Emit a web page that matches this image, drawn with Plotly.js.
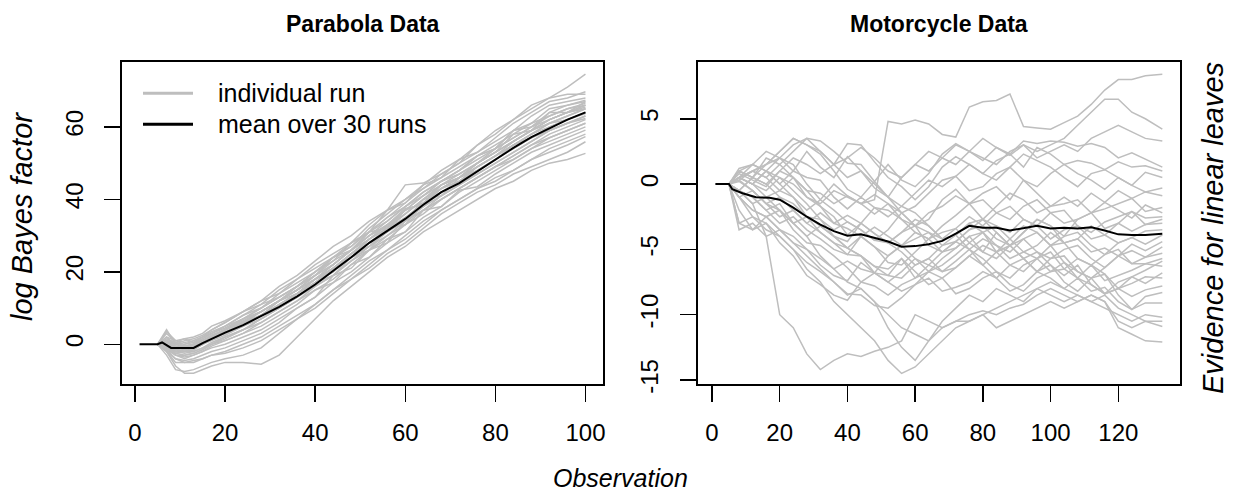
<!DOCTYPE html>
<html><head><meta charset="utf-8">
<script src="https://cdn.plot.ly/plotly-3.0.1.min.js"></script>
<style>html,body{margin:0;padding:0;background:#fff;} #chart{width:1234px;height:493px;}</style>
</head><body><div id="chart"></div>
<script>
// ---------- Parabola Data ----------
const parabolaObs = [5, 7, 9, 11, 13, 15, 17, 20, 24, 28, 32, 36, 40, 44, 48, 52, 56, 60, 64, 68, 72, 76, 80, 84, 88, 92, 96, 100];
const parabolaRuns = [
  [0, 3.5, 1, 1.5, 0.5, 2, 4, 6, 9, 12, 14, 18, 22, 25, 28, 33, 37, 44, 44.5, 47, 50, 55, 58, 62, 66, 68, 71, 74.6],
  [0, 1, -1, 0, 1, 2, 3, 5, 8, 11, 13, 16, 20, 23, 28, 31, 37, 39, 44, 46, 51, 53, 57, 61, 64, 67, 68, 69.7],
  [0, 0.5, 0, -0.5, 0, 1.5, 3, 4.5, 7, 9, 12, 15, 19, 22, 26, 30, 32.5, 37, 41, 45, 48, 52, 54, 59, 61, 65, 66, 67.4],
  [0, -1, -2, -1.5, -1, 0, 2, 3, 6, 8, 11, 14, 18, 21, 24, 29, 32, 36, 40, 44, 46, 50, 54, 57, 60, 63, 65, 66.5],
  [0, -0.5, -1.5, -2, -1, 1, 2, 4, 6, 9, 12, 15, 18, 22, 26, 29, 33, 37.5, 38.5, 43, 45, 49, 52, 56, 59, 62, 64, 65.5],
  [0, 4, 0, -1, -0.5, 0.5, 1.5, 3, 5, 8, 11, 14, 18, 20, 25, 27, 32, 34, 40, 41, 46, 48, 51, 55, 58, 61, 62, 63.7],
  [0, -0.5, -2.5, -2, -2, -1, 0.5, 2, 4, 7, 10, 13, 16, 19, 23, 27, 30, 34, 37, 41, 44, 47, 50, 53, 56, 59, 61, 62.3],
  [0, -1, -3, -3, -2.5, -1.5, 0, 1, 3, 6, 9, 12, 15, 18, 22, 26, 29, 33, 36, 40, 43, 46, 49, 52, 55, 57, 59, 61],
  [0, -1.5, -3, -4, -3, -2, -1, 0, 2, 4, 7, 10, 13, 17, 20, 24, 28, 31, 35, 38, 42.5, 43.5, 47, 50, 53, 55, 57, 59.1],
  [0, -2, -5, -5, -4.5, -4, -3, -2, 0, 2, 5, 8, 11, 15, 18, 22, 26, 29, 33, 37, 40, 43, 46, 48, 51, 53, 55, 57.3],
  [0, -3, -7, -7.5, -7, -6, -5, -4, -3, -1, 3, 7, 10, 14, 18, 21, 25, 28, 32, 36, 39, 42, 44, 47, 49, 51, 53, 55.9],
  [0, -2, -6, -8, -8, -7, -6, -5, -5, -5.5, -3, 2, 7, 12, 16, 20, 24, 27, 31, 34, 37, 40, 43, 45, 48, 50, 51, 52.7],
  [0, 1, 0, 1, 1.5, 2.5, 4, 6, 9, 11, 15, 18, 21, 24, 27, 31, 34, 38, 42, 45, 48, 51, 54, 57, 60, 62, 64, 66],
  [0, 0, -1, -1, 0, 1, 2.5, 4, 7, 10, 13, 16, 19, 24, 26, 31, 32, 37, 39, 44, 46, 50, 53, 56, 59, 61, 63, 65],
  [0, 2, -0.5, -1, -0.5, 0.5, 2, 3.5, 5.5, 8, 12, 15, 18, 22, 26, 30, 33, 37, 41, 44, 46, 49, 52, 55, 58, 60, 62, 64],
  [0, 0.5, -1, -1.5, -1, 0.5, 2, 4, 7, 9, 12, 16, 19, 23, 26, 30, 34, 38, 41, 45, 48, 52, 54, 59, 60, 64, 66, 67],
  [0, -0.5, -2, -2, -1.5, 0, 1.5, 3, 6, 9, 12, 15, 19, 22, 26, 31, 35, 39, 43, 47, 50, 53, 56, 59, 63, 66, 67, 68],
  [0, -1, -2, -2.5, -2, -1, 0, 1.5, 4, 6, 9, 12, 16, 19, 23, 26, 30, 33, 37, 40, 43, 46, 49, 52, 55, 58, 60, 62],
  [0, -0.5, -3, -3.5, -3, -2, -0.5, 1, 3, 5, 8, 11, 15, 17, 22, 24, 29, 31, 37, 38, 42, 45, 48, 51, 54, 56, 58, 60],
  [0, 1.5, 0.5, 0, 0.5, 1.5, 3, 5, 8, 10, 14, 17, 20, 24, 27, 32, 36, 40, 43, 46, 49, 52, 55, 58, 61, 63, 65, 66],
  [0, -1, -1.5, -2, -1.5, 0, 1, 2.5, 5, 7, 10, 14, 17, 20, 24, 27, 31, 34, 38, 41, 44, 47, 50, 53, 56, 59, 61, 63],
  [0, 0.5, -0.5, -1, 0, 1, 2, 3, 6, 9, 12, 14, 17, 21, 25, 29, 32, 35, 38, 42, 45, 49, 52, 55, 58, 61, 63, 65],
  [0, -1.5, -4, -4.5, -4, -3, -2, -1, 1, 3, 6, 10, 13, 19, 21, 26, 28, 34, 37, 40, 43, 46, 49, 51, 54, 57, 59, 61],
  [0, -2, -4, -5, -5, -4, -3, -2.5, -1, 1, 4, 7, 11, 15, 19, 23, 26, 30, 34, 37, 40, 43, 45, 48, 51, 54, 56, 58],
  [0, 2, 1, 0.5, 1, 2, 3.5, 5, 7, 10, 13, 16, 20, 24, 28, 31, 35, 38, 42, 45, 47, 50, 53, 58, 59, 64, 64, 67],
  [0, 1, 0.5, 1.5, 2, 3, 5, 6.5, 9, 12, 16, 19, 23, 27, 30, 34, 37, 40, 44, 48, 51, 55, 59, 62, 65, 68, 69, 69],
  [0, -0.5, -1.5, -1, -1, 0, 1.5, 3, 5, 8, 10, 13, 17, 19, 24, 26, 32, 33, 39, 42, 45, 48, 51, 54, 57, 59, 61, 63],
  [0, 0, -1, -0.5, 0, 1, 2, 4, 6, 8, 11, 14, 18, 21, 25, 29, 33, 36, 40, 43, 46, 50, 53, 56, 59, 62, 64, 66],
  [0, 3, 0.5, -0.5, 0, 1, 2.5, 4, 6.5, 9, 12, 15, 18, 21, 24, 28, 31, 35, 39, 43, 46, 49, 52, 55, 57, 60, 62, 64],
  [0, -1, -2.5, -3, -2.5, -1.5, 0, 2, 4, 7, 10, 13, 17, 21, 25, 28, 32, 36, 40, 44, 47, 50, 53, 56, 59, 62, 64, 65]
];
const parabolaMeanObs = [1, 5, 6, 7, 8, 10, 13, 15, 17, 20, 24, 28, 32, 36, 40, 44, 48, 52, 56, 60, 64, 68, 72, 76, 80, 84, 88, 92, 96, 100];
const parabolaMean = [0, 0, 0.5, -0.3, -1, -1, -1, 0.3, 1.5, 3.2, 5.3, 7.8, 10.3, 13.2, 16.5, 20.3, 24, 28, 31.3, 34.6, 38.5, 42, 44.5, 47.8, 51, 54.2, 57.2, 59.7, 62, 64];

// ---------- Motorcycle Data ----------
const motoObs = [5, 8, 12, 16, 20, 24, 28, 32, 36, 40, 44, 48, 52, 56, 60, 64, 68, 72, 76, 80, 84, 88, 92, 96, 100, 104, 108, 112, 116, 120, 124, 128, 133];
const motoRuns = [
  [0, 0.5, 0, -0.5, 0.5, 0, -1, -1.5, -0.5, -1, -1.5, -1.2, 4.8, 4.6, 4.9, 4.6, 3.8, 3.6, 5.9, 6.3, 6.4, 6.9, 4.4, 4.3, 4.2, 4.7, 5.2, 6.1, 7.2, 8.0, 8.0, 8.3, 8.4],
  [0, 0.5, 1, 1.5, 2.5, 3.5, 3, 2.5, 1.5, 2, 2.8, 2, 1, 0.5, 1.5, 2.5, 2, 3, 2.5, 3.5, 2.8, 2.2, 3, 2.5, 3, 3.5, 4.5, 5.5, 6.5, 6.5, 5.5, 5, 4.2],
  [0, 1, 1.5, 2.5, 2, 3, 3.5, 2.5, 1.5, 0.5, 1, 0, -1, 0.5, 1.5, 1, 2, 1.5, 2.5, 2, 1.5, 2.5, 3, 2, 2.5, 3, 2.5, 3.5, 4, 4.5, 4, 3.5, 3.3],
  [0, 0.5, 1, 1.5, 2.5, 3.5, 3, 2.3, 1, -0.4, -1, 0.2, 1.5, 0.3, -0.2, 0.8, 2.3, 3.1, 2.5, 1.8, 2.8, 2.3, 3.3, 3.1, 3.3, 3.2, 2.9, 3.1, 2.8, 2, 2.4, 1.9, 1.3],
  [0, 1, 0.5, 0, 1, 2, 1.5, 0.8, 1.5, 3.1, 3, 1.7, 0.5, -0.2, -1.2, -0.2, 1.3, 2.1, 1.5, 0.8, 1.8, 2.3, 1.3, 2.8, 2.3, 1.5, 1.8, 1.6, 1.1, 1.7, 1.3, 1.4, 1.0],
  [0, 0.3, 1, 0.5, -0.5, -1, -2, -1.2, 0, -0.9, -1.5, -0.8, -1.5, -2.2, -1.7, -0.7, 0.3, 0.6, 1.5, 0.8, 0.3, 1.3, 2.3, 1.8, 1.3, 0.5, -0.2, 0.8, 1.1, 0.5, -0.1, 0.9, 0.5],
  [0, 1.2, 1.5, 1, 0, 1, 0.5, 0.3, -1, -1.9, -1, -1.8, -2.5, -1.7, -0.7, 0.3, -0.2, 0.6, -0.5, -0.2, 0.8, 1.3, 0.3, -0.2, 0.8, 1.5, 0.8, 0.3, -0.4, 0.5, -0.1, -0.6, -0.3],
  [0, -0.5, 0.5, 1.5, 2, 1, 2.5, 1.3, 0.5, 2.1, 1, -0.3, -1, -2.2, -3.2, -2.7, -1.2, -0.4, -1.5, -0.7, -0.2, -1.2, 0.3, -0.7, -1.7, -1, -1.7, -0.7, -1.4, -0.5, -1.1, -0.6, -0.9],
  [0, 0.5, 0, -1, -0.5, 0.5, -1, -1.7, -2.5, -3.9, -3, -3.8, -4.5, -3.7, -3.2, -2.2, -1.7, -0.9, -1.5, -2.7, -1.7, -0.7, -1.2, -2.2, -1.7, -1.5, -1.2, -2.2, -1.9, -1.5, -1.1, -2.1, -1.8],
  [0, 0.8, 0.3, -0.2, 1, 0.5, -0.5, -0.7, -1.5, -0.9, -1.5, -2.3, -1.5, -2.7, -3.2, -3.7, -4.2, -3.4, -2.5, -3.2, -2.2, -2.7, -1.7, -1.2, -2.2, -3, -2.7, -2.2, -1.4, -2, -2.6, -1.6, -2.2],
  [0, -3, -3.5, -2.5, -2, -3, -4, -3.2, -4, -4.4, -3, -1.8, -2, -2.7, -3.7, -4.2, -3.2, -2.4, -1.5, -1.2, -2.2, -1.7, -2.7, -3.2, -2.2, -2, -3.2, -3.7, -2.9, -2.5, -2.1, -2.6, -2.5],
  [0, 0.5, 1, 0.5, 1.5, 2.5, 3.5, 3.3, 2.5, 1.6, 1.5, 0.2, -1, -1.7, -2.2, -3.2, -4.2, -3.9, -3, -2.7, -3.7, -4.7, -3.7, -2.7, -3.2, -4, -2.7, -2.2, -3.4, -3, -2.1, -3.1, -2.7],
  [0, 0.2, -0.5, -1.5, -1, -2, -3, -2.2, -3, -3.4, -4, -3.3, -4, -4.7, -4.2, -3.7, -4.7, -4.4, -3.5, -2.7, -3.2, -3.7, -2.7, -3.2, -4.2, -3.5, -3.2, -4.2, -3.9, -3, -3.6, -3.1, -3.0],
  [0, -0.5, 0.5, 0, -1, -1.5, -2.5, -2.7, -3.5, -2.9, -3.5, -4.3, -3.5, -2.2, -3.2, -4.7, -5.2, -4.4, -3.5, -3.2, -4.2, -4.7, -3.7, -2.7, -3.2, -4.5, -4.2, -3.2, -3.9, -4.5, -4.1, -3.6, -3.5],
  [0, 1, 0.5, 2, 1.5, 0.5, -0.5, -1.7, -3, -2.4, -3, -3.8, -4.5, -3.7, -2.7, -3.2, -4.2, -3.9, -3, -3.7, -5.2, -4.2, -3.2, -3.7, -4.7, -4, -3.7, -4.7, -5.4, -4.5, -4.1, -4.6, -3.9],
  [0, -0.5, -1, -2, -3, -2.5, -3.5, -4.2, -5, -5.4, -4, -4.8, -5.5, -4.7, -3.7, -4.2, -5.2, -4.9, -4, -3.7, -4.7, -5.2, -4.2, -3.7, -4.7, -4.5, -4.2, -5.2, -4.9, -5.5, -4.6, -5.1, -4.4],
  [0, -3.5, -3, -4, -3.5, -4.5, -5, -5.7, -6.5, -5.9, -6.5, -6.8, -5.5, -4.7, -5.7, -6.7, -6.2, -5.4, -4.5, -5.2, -5.7, -4.7, -4.2, -5.2, -5.7, -5, -4.7, -5.7, -6.4, -5.5, -5.1, -5.6, -4.8],
  [0, 0.5, 0, 1, 2, 1.5, 0, -1.2, -2, -2.9, -3.5, -4.3, -4.5, -5.2, -6.2, -5.7, -4.7, -3.9, -5, -6.2, -5.2, -4.7, -5.7, -6.7, -5.7, -5.5, -6.7, -7.2, -6.4, -5.5, -6.1, -5.6, -5.3],
  [0, -1, -2, -2.5, -3.5, -4, -5, -6.2, -7, -7.4, -6, -6.8, -7.5, -6.7, -5.7, -6.2, -5.2, -4.4, -5, -4.2, -4.7, -5.7, -5.2, -4.7, -3.7, -4.5, -5.7, -6.2, -5.4, -5, -6.1, -6.1, -5.7],
  [0, 0.5, 1.5, 1, 0, -1, -2.5, -3.7, -4.5, -5.4, -5.5, -6.3, -7, -7.2, -6.2, -5.7, -6.7, -6.4, -5.5, -4.7, -5.2, -6.2, -6.7, -5.7, -5.2, -6.5, -7.2, -6.2, -6.9, -8, -7.1, -6.6, -5.9],
  [0, -0.5, -1.5, -1, -2, -3.5, -4.5, -4.7, -5.5, -6.4, -7.5, -7.8, -8.5, -7.7, -7.2, -6.2, -6.7, -5.9, -5, -5.7, -6.7, -7.2, -6.2, -5.7, -6.7, -6.5, -5.7, -6.2, -7.4, -7, -6.6, -6.1, -6.3],
  [0, 0.3, -0.5, -1.5, -2.5, -2, -3, -3.7, -4.5, -4.9, -5.5, -6.3, -6.5, -5.7, -7.2, -6.7, -5.7, -4.9, -4, -5.2, -3.7, -4.7, -5.7, -5.2, -6.2, -7, -6.2, -7.7, -8.4, -7.5, -7.1, -7.6, -6.8],
  [0, -1, -0.5, -1.5, -2, -3, -2.5, -3.2, -4, -4.9, -4, -4.8, -6, -6.2, -5.2, -4.2, -3.7, -3.4, -4.5, -3.7, -3.2, -4.2, -5.2, -5.7, -4.7, -6, -7.2, -7.7, -8.4, -8, -7.6, -7.1, -7.2],
  [0, -3, -2.5, -3, -4.5, -5.5, -7, -7.7, -8.5, -8.9, -7.5, -6.8, -7.5, -8.2, -7.7, -6.7, -7.2, -8.4, -8, -7.2, -6.7, -7.7, -8.2, -7.2, -6.7, -6, -6.7, -7.2, -8.4, -8, -8.6, -8.1, -7.8],
  [0, 0.5, 0, 1, 0.5, -0.5, -1.5, -2.7, -4, -4.9, -5.5, -6.8, -7, -5.7, -6.7, -7.7, -7.2, -6.4, -5.5, -6.2, -7.2, -6.2, -5.7, -6.7, -7.2, -8, -7.2, -8.2, -7.9, -9, -9.6, -8.6, -8.3],
  [0, -2, -3.5, -3, -4, -5, -6, -6.7, -7.5, -8.4, -8.5, -9.3, -9.5, -8.7, -7.7, -7.2, -8.2, -7.9, -7.5, -6.7, -7.2, -8.2, -7.7, -6.7, -6.2, -7.5, -8.2, -7.2, -6.9, -8.5, -9.6, -9.1, -9.1],
  [0, -0.5, -1, -2, -1.5, -3, -4, -5.5, -6.5, -7.5, -8, -9, -11, -12.5, -13.5, -12, -10.5, -9.5, -8.5, -9, -8, -8.5, -9, -8, -8.5, -9, -8.5, -9, -9.5, -10, -10.5, -10, -10.2],
  [0, -1, -2.5, -3.5, -4, -5, -6.5, -7.5, -9, -10, -11, -12, -13.5, -14.5, -14, -13, -12, -11, -10.5, -10, -9.5, -9, -8.5, -8, -7.5, -8, -8.5, -9, -8.5, -9.5, -10, -10.5, -10.5],
  [0, -0.5, -1.5, -4, -10, -11, -13, -14.2, -13.5, -13, -13.2, -12.8, -12.5, -12, -10, -10.5, -11, -10.5, -10, -9.7, -10, -9.5, -9.2, -8.5, -8, -8.5, -9, -8.5, -9, -10.5, -11, -10.5, -10.9],
  [0, -1, -2, -2.5, -3.5, -4.5, -5.5, -6.5, -7.5, -8.5, -8, -9, -10, -11, -11.5, -12, -11, -10.5, -10.5, -10, -11, -10.5, -10, -9.5, -9, -9.5, -9, -8.5, -9, -11, -11.5, -12, -12.1]
];
const motoMeanObs = [1, 5, 6, 9, 13, 17, 20, 24, 28, 32, 36, 40, 44, 48, 52, 56, 60, 64, 68, 72, 76, 80, 84, 88, 92, 96, 100, 104, 108, 112, 116, 120, 124, 128, 133];
const motoMean = [0, 0, -0.4, -0.7, -1.0, -1.05, -1.2, -1.8, -2.5, -3.1, -3.6, -3.95, -3.85, -4.1, -4.4, -4.8, -4.75, -4.6, -4.35, -3.8, -3.2, -3.35, -3.35, -3.55, -3.4, -3.2, -3.4, -3.35, -3.4, -3.3, -3.55, -3.85, -3.9, -3.9, -3.8];

// ---------- Text and ticks ----------
const panelTitles = ['Parabola Data', 'Motorcycle Data'];
const legendLabels = ['individual run', 'mean over 30 runs'];
const xTitle = 'Observation';
const yTitleLeft = 'log Bayes factor';
const yTitleRight = 'Evidence for linear leaves';
const parabolaXTicks = [0, 20, 40, 60, 80, 100];
const parabolaYTicks = [0, 20, 40, 60];
const motoXTicks = [0, 20, 40, 60, 80, 100, 120];
const motoYTicks = [-15, -10, -5, 0, 5];
const motoYTickLabels = ['-15', '-10', '-5', '0', '5'];

// ---------- Build ----------
const GREY = '#BEBEBE';
const FONT = 'Liberation Sans, Arial, Helvetica, sans-serif';
const W = 1234, H = 493;
const px = v => v / W;
const py = v => 1 - v / H;

const traces = [];
parabolaRuns.forEach(r => traces.push({x: parabolaObs, y: r, xaxis: 'x', yaxis: 'y', type: 'scatter', mode: 'lines', line: {color: GREY, width: 1.5}, hoverinfo: 'skip', showlegend: false}));
traces.push({x: parabolaMeanObs, y: parabolaMean, xaxis: 'x', yaxis: 'y', type: 'scatter', mode: 'lines', line: {color: '#000', width: 2}, hoverinfo: 'skip', showlegend: false});
motoRuns.forEach(r => traces.push({x: motoObs, y: r, xaxis: 'x2', yaxis: 'y2', type: 'scatter', mode: 'lines', line: {color: GREY, width: 1.5}, hoverinfo: 'skip', showlegend: false}));
traces.push({x: motoMeanObs, y: motoMean, xaxis: 'x2', yaxis: 'y2', type: 'scatter', mode: 'lines', line: {color: '#000', width: 2}, hoverinfo: 'skip', showlegend: false});

const axisBase = {
  showline: true, mirror: true, linecolor: '#000', linewidth: 1.5,
  ticks: 'outside', ticklen: 16, tickwidth: 1.5, tickcolor: '#000',
  showgrid: false, zeroline: false, fixedrange: true,
  tickfont: {family: FONT, size: 24, color: '#000'}
};
const yDom = [py(384.3), py(61.7)];

const layout = {
  width: W, height: H,
  margin: {l: 0, r: 0, t: 0, b: 0},
  paper_bgcolor: '#fff', plot_bgcolor: '#fff',
  showlegend: false,
  xaxis: Object.assign({}, axisBase, {domain: [px(121.7), px(603.3)], range: [-2.96, 103.96], tickmode: 'array', tickvals: parabolaXTicks, ticktext: parabolaXTicks.map(String), ticklabelstandoff: 10, anchor: 'y'}),
  yaxis: Object.assign({}, axisBase, {domain: yDom, range: [-11.05, 78.0], tickmode: 'array', tickvals: parabolaYTicks, ticktext: parabolaYTicks.map(String), tickangle: -90, ticklabelstandoff: 12, anchor: 'x'}),
  xaxis2: Object.assign({}, axisBase, {domain: [px(697.5), px(1180.2)], range: [-4.28, 138.28], tickmode: 'array', tickvals: motoXTicks, ticktext: motoXTicks.map(String), ticklabelstandoff: 10, anchor: 'y2'}),
  yaxis2: Object.assign({}, axisBase, {domain: yDom, range: [-15.33, 9.37], tickmode: 'array', tickvals: motoYTicks, ticktext: motoYTickLabels, tickangle: -90, ticklabelstandoff: 12, anchor: 'x2'}),
  annotations: [
    {text: '<b>' + panelTitles[0] + '</b>', x: px(362.5), y: py(24), xref: 'paper', yref: 'paper', xanchor: 'center', yanchor: 'middle', showarrow: false, font: {family: FONT, size: 23, color: '#000'}},
    {text: '<b>' + panelTitles[1] + '</b>', x: px(938.9), y: py(24), xref: 'paper', yref: 'paper', xanchor: 'center', yanchor: 'middle', showarrow: false, font: {family: FONT, size: 23, color: '#000'}},
    {text: '<i>' + yTitleLeft + '</i>', x: px(22), y: py(217), xref: 'paper', yref: 'paper', xanchor: 'center', yanchor: 'middle', textangle: -90, showarrow: false, font: {family: FONT, size: 29, color: '#000'}},
    {text: '<i>' + yTitleRight + '</i>', x: px(1213), y: py(228), xref: 'paper', yref: 'paper', xanchor: 'center', yanchor: 'middle', textangle: -90, showarrow: false, font: {family: FONT, size: 29, color: '#000'}},
    {text: '<i>' + xTitle + '</i>', x: px(620), y: py(478), xref: 'paper', yref: 'paper', xanchor: 'center', yanchor: 'middle', showarrow: false, font: {family: FONT, size: 25, color: '#000'}},
    {text: legendLabels[0], x: px(216), y: py(93.3), xref: 'paper', yref: 'paper', xanchor: 'left', yanchor: 'middle', showarrow: false, font: {family: FONT, size: 25, color: '#000'}},
    {text: legendLabels[1], x: px(216), y: py(124.3), xref: 'paper', yref: 'paper', xanchor: 'left', yanchor: 'middle', showarrow: false, font: {family: FONT, size: 25, color: '#000'}}
  ],
  shapes: [
    {type: 'line', xref: 'paper', yref: 'paper', x0: px(143), x1: px(193), y0: py(93.3), y1: py(93.3), line: {color: GREY, width: 3}},
    {type: 'line', xref: 'paper', yref: 'paper', x0: px(143), x1: px(193), y0: py(124.3), y1: py(124.3), line: {color: '#000', width: 3}}
  ]
};

Plotly.newPlot('chart', traces, layout, {displayModeBar: false, staticPlot: true});
</script></body></html>
